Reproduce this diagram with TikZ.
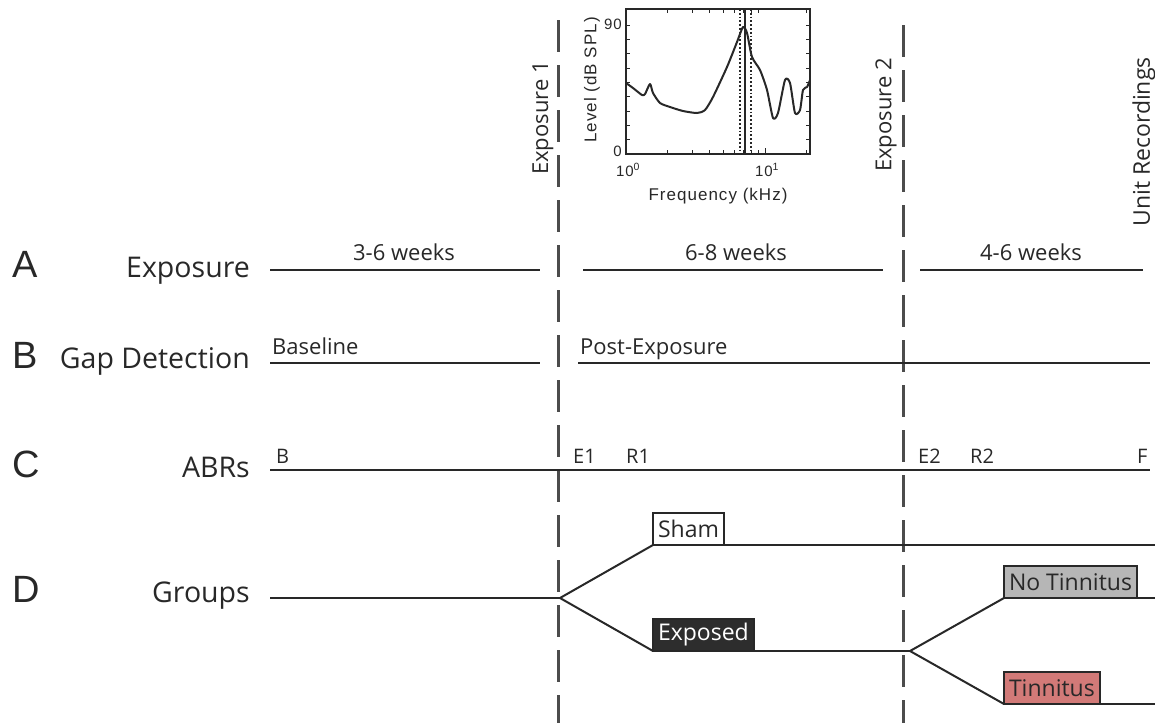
\documentclass[tikz,border=0pt]{standalone}
\usepackage{fontspec}
\setmainfont{Open Sans}
\newfontfamily\panelfont{Liberation Sans}
\newfontfamily\plotfont[LetterSpace=6]{Liberation Sans}
\usetikzlibrary{positioning}

\definecolor{inkgray}{RGB}{40,40,40}
\definecolor{tinred}{RGB}{210,122,120}
\definecolor{notingray}{RGB}{182,182,182}
\definecolor{expdark}{RGB}{45,45,45}

\tikzset{
  panel/.style={font=\panelfont\fontsize{38}{38}\selectfont, anchor=base west, text=inkgray, inner sep=0pt},
  rowlabel/.style={font=\fontsize{28.5}{28.5}\selectfont, anchor=base east, text=inkgray, inner sep=0pt},
  period/.style={font=\fontsize{22}{22}\selectfont, anchor=base, text=inkgray, inner sep=0pt},
  phase/.style={font=\fontsize{22}{22}\selectfont, anchor=base west, text=inkgray, inner sep=0pt},
  abrlabel/.style={font=\fontsize{20}{20}\selectfont, anchor=base west, text=inkgray, inner sep=0pt},
  vlabel/.style={rotate=90, font=\fontsize{22}{22}\selectfont, text=inkgray, inner sep=0pt},
  tline/.style={line width=2pt, inkgray},
  epoch/.style={line width=3pt, black!70, dash pattern=on 32pt off 13pt},
  grp/.style={draw=inkgray, line width=2pt, anchor=south west, outer sep=0pt,
    inner xsep=5pt, minimum height=32pt, font=\fontsize{23}{23}\selectfont},
  plotlabel/.style={font=\plotfont\fontsize{15}{15}\selectfont, text=inkgray, inner sep=0pt},
}

\begin{document}
\begin{tikzpicture}[x=1pt,y=-1pt]
  \useasboundingbox (0,0) rectangle (1155,723);

  % exposure markers
  \coordinate (ex1top) at (558,20);
  \coordinate (ex1bot) at (558,723);
  \coordinate (ex2top) at (903,25);
  \coordinate (ex2bot) at (903,723);
  \draw[epoch] (ex1top) -- (ex1bot);
  \draw[epoch] (ex2top) -- (ex2bot);
  \node[vlabel] (ex1) at (543,118) {Exposure 1};
  \node[vlabel] (ex2) at (886,115) {Exposure 2};
  \node[vlabel, font=\fontsize{23}{23}\selectfont] (unit) at (1144,142) {Unit Recordings};

  % panel letters and row names
  \foreach \y/\l/\t in {277/A/Exposure, 368/B/Gap Detection, 477/C/ABRs, 602/D/Groups} {
    \node[panel] (panel\l) at (12,\y) {\l};
    \node[rowlabel] (row\l) at (250,\y) {\t};
  }

  % A: exposure timeline
  \coordinate (a0) at (270,270);
  \coordinate (a1) at (540,270);
  \coordinate (a2) at (583,270);
  \coordinate (a3) at (883,270);
  \coordinate (a4) at (920,270);
  \coordinate (a5) at (1143,270);
  \draw[tline] (a0) -- (a1);
  \draw[tline] (a2) -- (a3);
  \draw[tline] (a4) -- (a5);
  \node[period] (wk1) at (404,260) {3-6 weeks};
  \node[period] (wk2) at (736,260) {6-8 weeks};
  \node[period] (wk3) at (1031,260) {4-6 weeks};

  % B: gap detection
  \coordinate (b0) at (270,363);
  \coordinate (b1) at (540,363);
  \coordinate (b2) at (578,363);
  \coordinate (b3) at (1150,363);
  \draw[tline] (b0) -- (b1);
  \draw[tline] (b2) -- (b3);
  \node[phase] (base) at (272,354) {Baseline};
  \node[phase] (post) at (580,354) {Post-Exposure};

  % C: ABRs
  \coordinate (c0) at (270,470);
  \coordinate (c1) at (1150,470);
  \draw[tline] (c0) -- (c1);
  \foreach \x/\t in {276/B, 573/E1, 626/R1, 918/E2, 970/R2, 1137/F} {
    \node[abrlabel] (abr\t) at (\x,463) {\t};
  }

  % D: groups
  \coordinate (d0) at (270,598);
  \coordinate (split1) at (560,598);
  \coordinate (split2) at (910,651);
  \coordinate (shamend) at (1155,545);
  \coordinate (notinend) at (1155,598);
  \coordinate (tinend) at (1155,704);
  \node[grp, fill=white, text=inkgray] (sham) at (653,545) {Sham};
  \node[grp, fill=expdark, text=white] (exposed) at (653,651) {Exposed};
  \node[grp, fill=notingray, text=inkgray] (notin) at (1004,598) {No Tinnitus};
  \node[grp, fill=tinred, text=inkgray] (tin) at (1004,704) {Tinnitus};
  \draw[tline] (d0) -- (split1);
  \draw[tline] (split1) -- (sham.south west);
  \draw[tline] (sham.south east) -- (shamend);
  \draw[tline] (split1) -- (exposed.south west);
  \draw[tline] (exposed.south east) -- (split2);
  \draw[tline] (split2) -- (notin.south west);
  \draw[tline] (notin.south east) -- (notinend);
  \draw[tline] (split2) -- (tin.south west);
  \draw[tline] (tin.south east) -- (tinend);

  % inset: exposure spectrum
  \coordinate (plotNW) at (626,9);
  \coordinate (plotSE) at (810,154);
  \foreach \f in {2,...,9,20} {
    \pgfmathsetmacro\tx{626+139*log10(\f)}
    \draw[line width=1pt, inkgray] (\tx,154) -- (\tx,150);
    \draw[line width=1pt, inkgray] (\tx,9) -- (\tx,13);
  }
  \draw[line width=1pt, inkgray] (765,154) -- (765,148);
  \foreach \d in {10,20,...,90} {
    \pgfmathsetmacro\ty{154-1.433*\d}
    \draw[line width=1pt, inkgray] (626,\ty) -- (630,\ty);
    \draw[line width=1pt, inkgray] (810,\ty) -- (806,\ty);
  }
  \draw[line width=1.8pt, dotted, inkgray] (740,9) -- (740,154);
  \draw[line width=1.8pt, dotted, inkgray] (751,9) -- (751,154);
  \draw[line width=2pt, inkgray] (745,9) -- (745,154);
  \draw[line width=2pt, inkgray, line join=round] plot[smooth, tension=0.4] coordinates {
    (626,83) (633,88) (642,95) (645,94) (650,84) (653,93) (660,103) (670,107)
    (683,111) (697,113) (705,110) (713,97) (727,67) (737,42) (743,27) (747,33)
    (752,57) (760,70) (767,90) (773,118) (778,113) (785,80) (790,83) (795,113)
    (800,110) (803,90) (807,87) (810,80)};
  \draw[line width=2.2pt, inkgray] (plotNW) rectangle (plotSE);
  \node[plotlabel, anchor=east] (y90) at (622,24) {90};
  \node[plotlabel, anchor=east] (y0) at (622,151) {0};
  \node[plotlabel] (x0) at (628,170) {10\textsuperscript{0}};
  \node[plotlabel] (x1) at (767,170) {10\textsuperscript{1}};
  \node[plotlabel, font=\plotfont\fontsize{17}{17}\selectfont] (xlab) at (718,196) {Frequency (kHz)};
  \node[plotlabel, rotate=90, font=\plotfont\fontsize{17}{17}\selectfont] (ylab) at (592,80) {Level (dB SPL)};
\end{tikzpicture}
\end{document}
